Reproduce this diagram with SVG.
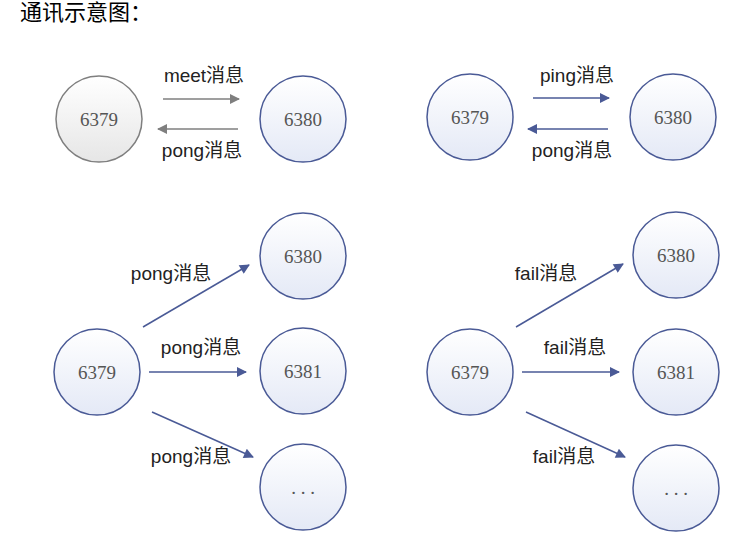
<svg xmlns="http://www.w3.org/2000/svg" width="749" height="548" viewBox="0 0 749 548">
<defs>
<linearGradient id="gb" x1="0" y1="0" x2="0" y2="1"><stop offset="0" stop-color="#ffffff"/><stop offset="1" stop-color="#e4e9f6"/></linearGradient>
<linearGradient id="gg" x1="0" y1="0" x2="0" y2="1"><stop offset="0" stop-color="#ffffff"/><stop offset="1" stop-color="#e6e6e6"/></linearGradient>
<marker id="ab" viewBox="0 0 10 10" refX="9" refY="5" markerWidth="11" markerHeight="10" markerUnits="userSpaceOnUse" orient="auto"><path d="M0,0 L10,5 L0,10 Z" fill="#4a5a96"/></marker>
<marker id="ag" viewBox="0 0 10 10" refX="9" refY="5" markerWidth="11" markerHeight="10" markerUnits="userSpaceOnUse" orient="auto"><path d="M0,0 L10,5 L0,10 Z" fill="#7f7f7f"/></marker>
</defs>
<style>
.nb{fill:url(#gb);stroke:#4a5a96;stroke-width:1.5}
.ng{fill:url(#gg);stroke:#7f7f7f;stroke-width:1.5}
.num{font-family:"Liberation Serif","Noto Sans CJK SC",serif;font-size:19px;fill:#555;text-anchor:middle}
.lbl{font-family:"Liberation Sans","Noto Sans CJK SC",sans-serif;font-size:19px;fill:#222;text-anchor:middle}
.eb{stroke:#4a5a96;stroke-width:1.5;fill:none;marker-end:url(#ab)}
.eg{stroke:#7f7f7f;stroke-width:1.5;fill:none;marker-end:url(#ag)}
.title{font-family:"Liberation Serif","Noto Sans CJK SC",serif;font-size:22px;fill:#000}
</style>
<rect width="749" height="548" fill="#fff"/>
<text class="title" x="20" y="20">通讯示意图：</text>

<g id="tl-6379"><circle class="ng" cx="99" cy="119" r="43"/><text class="num" x="99" y="126">6379</text></g>
<g id="tl-6380"><circle class="nb" cx="303" cy="119" r="43"/><text class="num" x="303" y="126">6380</text></g>
<g id="tr-6379"><circle class="nb" cx="470" cy="117" r="43"/><text class="num" x="470" y="124">6379</text></g>
<g id="tr-6380"><circle class="nb" cx="673" cy="117" r="43"/><text class="num" x="673" y="124">6380</text></g>

<g id="bl-6379"><circle class="nb" cx="97" cy="372" r="43"/><text class="num" x="97" y="379">6379</text></g>
<g id="bl-6380"><circle class="nb" cx="303" cy="256" r="43"/><text class="num" x="303" y="263">6380</text></g>
<g id="bl-6381"><circle class="nb" cx="303" cy="371" r="43"/><text class="num" x="303" y="378">6381</text></g>
<g id="bl-more"><circle class="nb" cx="303" cy="487" r="43"/><text class="num" x="303" y="494">. . .</text></g>

<g id="br-6379"><circle class="nb" cx="470" cy="372" r="43"/><text class="num" x="470" y="379">6379</text></g>
<g id="br-6380"><circle class="nb" cx="676" cy="255" r="43"/><text class="num" x="676" y="262">6380</text></g>
<g id="br-6381"><circle class="nb" cx="676" cy="372" r="43"/><text class="num" x="676" y="379">6381</text></g>
<g id="br-more"><circle class="nb" cx="676" cy="488" r="43"/><text class="num" x="676" y="495">. . .</text></g>

<g id="connectors">
<line class="eg" x1="163" y1="99" x2="239" y2="99"/>
<line class="eg" x1="238" y1="129" x2="158" y2="129"/>
<line class="eb" x1="533" y1="98" x2="609" y2="98"/>
<line class="eb" x1="608" y1="129" x2="528" y2="129"/>
<line class="eb" x1="143" y1="327" x2="249" y2="265"/>
<line class="eb" x1="149" y1="372" x2="246" y2="372"/>
<line class="eb" x1="152" y1="412" x2="253" y2="457"/>
<line class="eb" x1="516" y1="327" x2="623" y2="264"/>
<line class="eb" x1="522" y1="372" x2="619" y2="372"/>
<line class="eb" x1="526" y1="412" x2="625" y2="457"/>
<text class="lbl" x="204" y="82">meet消息</text>
<text class="lbl" x="202" y="157">pong消息</text>
<text class="lbl" x="577" y="82">ping消息</text>
<text class="lbl" x="572" y="157">pong消息</text>
<text class="lbl" x="171" y="280">pong消息</text>
<text class="lbl" x="201" y="354">pong消息</text>
<text class="lbl" x="191" y="463">pong消息</text>
<text class="lbl" x="546" y="280">fail消息</text>
<text class="lbl" x="575" y="354">fail消息</text>
<text class="lbl" x="564" y="463">fail消息</text>
</g>
</svg>
